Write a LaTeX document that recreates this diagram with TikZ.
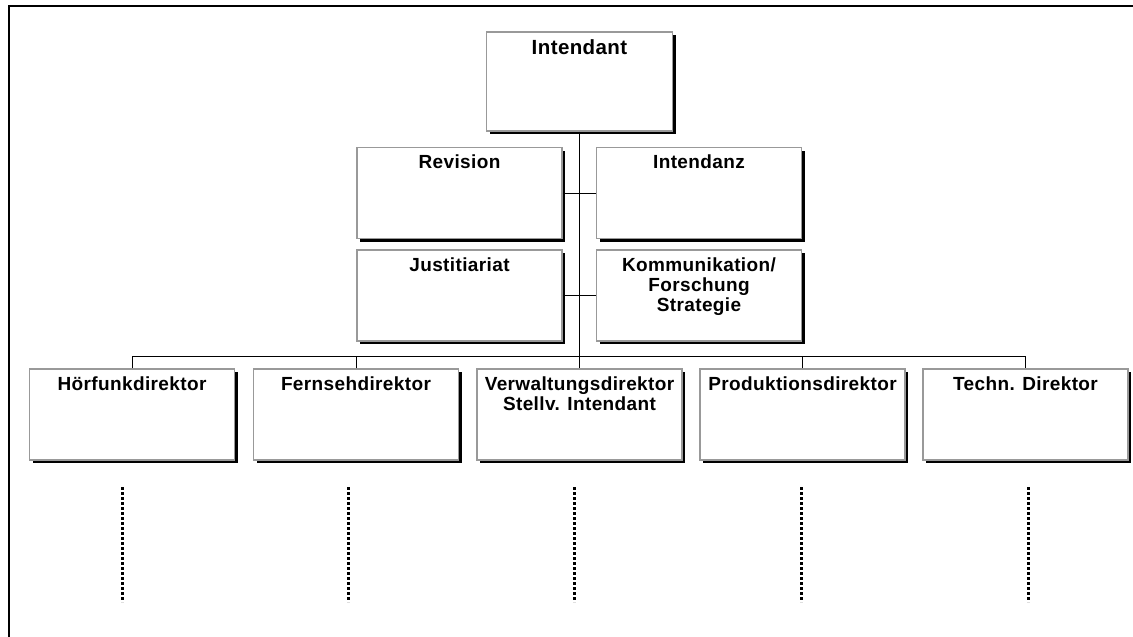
\documentclass[tikz,border=0pt]{standalone}
\usepackage{fontspec}
\setmainfont{Liberation Sans}
\newfontfamily\orgfont[LetterSpace=2]{Liberation Sans}
\usetikzlibrary{shadows}
\begin{document}
\begin{tikzpicture}[x=1pt,y=-1pt,
  box/.style={draw=black!40, line width=1.2pt, fill=white,
    minimum width=205pt, minimum height=91pt, inner sep=0pt,
    drop shadow={shadow xshift=3pt, shadow yshift=-3pt, fill=black, opacity=1}},
  title/.style={font=\orgfont\bfseries\fontsize{19}{20}\selectfont, align=center,
    inner sep=0pt, anchor=north, yshift=-8pt},
  headtitle/.style={title, font=\orgfont\bfseries\fontsize{20.5}{22}\selectfont},
  link/.style={line width=1pt, black},
  trail/.style={line width=3pt, dash pattern=on 3pt off 2pt, black},
  frame/.style={line width=2pt, black}]
\useasboundingbox (0,0) rectangle (1133,637);

% open frame (top and left edges)
\coordinate (fbl) at (9,650);
\coordinate (ftl) at (9,6);
\coordinate (ftr) at (1150,6);
\draw[frame] (fbl) -- (ftl) -- (ftr);

% head
\node[box, minimum width=186pt, minimum height=99pt,
      label={[headtitle]north:Intendant}] (int) at (579.5,81.5) {};

% staff units
\node[box, label={[title]north:Revision}] (rev) at (459.5,193) {};
\node[box, label={[title]north:Intendanz}] (inz) at (699,193) {};
\node[box, label={[title]north:Justitiariat}] (jus) at (459.5,295.5) {};
\node[box, label={[title]north:{Kommunikation/\\Forschung\\Strategie}}] (kom) at (699,295.5) {};

% directorates
\node[box, label={[title]north:Hörfunkdirektor}] (hf) at (132,414.5) {};
\node[box, label={[title]north:Fernsehdirektor}] (fs) at (356,414.5) {};
\node[box, label={[title]north:{Verwaltungsdirektor\\Stellv. Intendant}}] (vw) at (579.5,414.5) {};
\node[box, label={[title]north:Produktionsdirektor}] (pd) at (802.5,414.5) {};
\node[box, label={[title]north:Techn. Direktor}] (td) at (1025.5,414.5) {};

% connectors
\draw[link] (int.south) -- (vw.north);
\draw[link] (rev.east) -- (inz.west);
\draw[link] (jus.east) -- (kom.west);
\draw[link] (hf.north) -- ++(0,-12) coordinate (bus) -| (td.north);
\draw[link] (fs.north) -- (fs.north |- bus);
\draw[link] (pd.north) -- (pd.north |- bus);

% continuation marks below the directorates
\foreach \n/\x in {a/122, b/348, c/574.5, d/801, e/1028} {
  \coordinate (t\n) at (\x,487);
  \coordinate (b\n) at (\x,602);
  \draw[trail] (t\n) -- (b\n);
}
\end{tikzpicture}
\end{document}
